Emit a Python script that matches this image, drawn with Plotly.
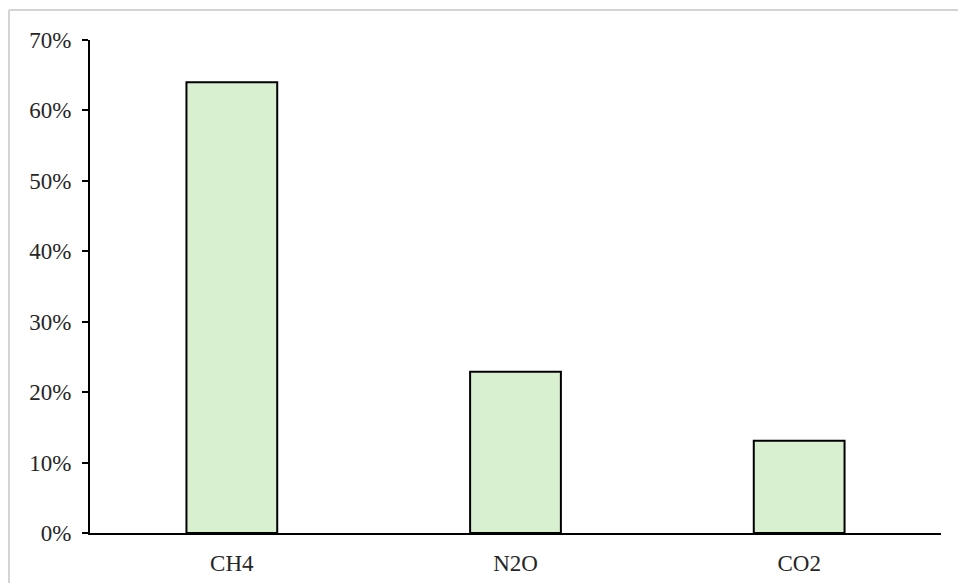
import plotly.graph_objects as go

categories = ["CH4", "N2O", "CO2"]
values = [0.64, 0.229, 0.131]
y_ticks = [0, 0.1, 0.2, 0.3, 0.4, 0.5, 0.6, 0.7]
y_tick_labels = ["0%", "10%", "20%", "30%", "40%", "50%", "60%", "70%"]

W, H = 958, 583
ml, mr, mt, mb = 90, 17, 40, 50
pw, ph = W - ml - mr, H - mt - mb

fig = go.Figure(go.Bar(
    x=categories, y=values, width=0.32,
    marker=dict(color="#d9f0d0", line=dict(color="black", width=2)),
))

bx = (9 - ml) / pw
by = 1 + (mt - 10) / ph
fig.add_shape(type="line", xref="paper", yref="paper", x0=bx, x1=(W - ml) / pw + 0.01,
              y0=by, y1=by, line=dict(color="#d4d4d4", width=2))
fig.add_shape(type="line", xref="paper", yref="paper", x0=bx, x1=bx,
              y0=by, y1=-(mb + 5) / ph, line=dict(color="#d4d4d4", width=2))

fig.update_layout(
    width=W, height=H,
    margin=dict(l=ml, r=mr, t=mt, b=mb),
    paper_bgcolor="white", plot_bgcolor="white",
    font=dict(family="Liberation Serif, Times New Roman, serif", size=23, color="#262626"),
    showlegend=False,
    bargap=0.68,
    xaxis=dict(showline=True, linecolor="black", linewidth=2, ticks="",
               showgrid=False, tickfont=dict(size=23), ticklabelstandoff=8,
               automargin=False),
    yaxis=dict(range=[0, 0.7], tickvals=y_ticks, ticktext=y_tick_labels,
               showline=True, linecolor="black", linewidth=2, ticks="outside",
               ticklen=6, tickwidth=2, tickcolor="black", showgrid=False,
               zeroline=False, tickfont=dict(size=23), ticklabelstandoff=6,
               automargin=False),
)

fig.write_html("out.html")
